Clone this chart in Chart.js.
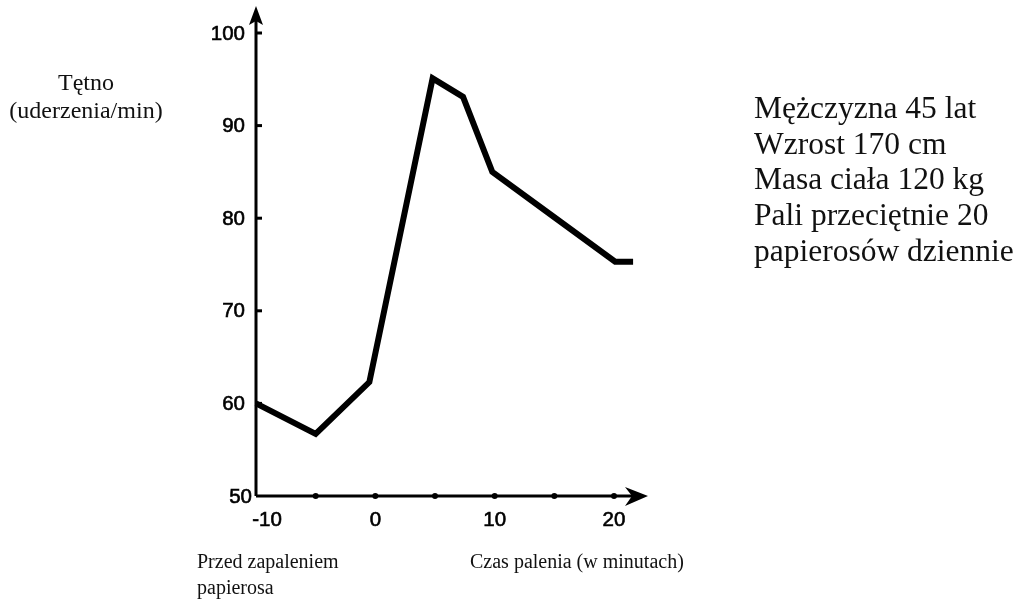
<!DOCTYPE html>
<html>
<head>
<meta charset="utf-8">
<script src="https://cdn.jsdelivr.net/npm/chart.js@4"></script>
<style>
    body { margin: 0; background: #fff; }
    #wrap { position: relative; width: 1021px; height: 600px; }
    .note { position: absolute; font-family: 'Liberation Serif', 'Times New Roman', serif; color: #111; white-space: nowrap; }
</style>
</head>
<body>
<div id="wrap">
    <canvas id="pulseChart" width="1021" height="600"></canvas>
    <div class="note" style="left:0; top:68px; width:172px; text-align:center; font-size:24px; line-height:28px;">Tętno<br>(uderzenia/min)</div>
    <div class="note" style="left:754px; top:90px; font-size:31.5px; line-height:35.7px;">Mężczyzna 45 lat<br>Wzrost 170 cm<br>Masa ciała 120 kg<br>Pali przeciętnie 20<br>papierosów dziennie</div>
    <div class="note" style="left:197px; top:548px; font-size:20px; line-height:26px;">Przed zapaleniem<br>papierosa</div>
    <div class="note" style="left:470px; top:548px; font-size:20px; line-height:26px;">Czas palenia (w minutach)</div>
</div>
<script>
/* data */
const minutes = [-10, -5, -0.5, 4.8, 7.35, 9.8, 15, 20.1, 21.6];
const pulse = [60, 56.7, 62.3, 95.1, 93.1, 85, 80.1, 75.3, 75.3];
const xTickLabels = [-10, 0, 10, 20];
const xTickDots = [-5, 0, 5, 10, 15, 20];
const yTickLabels = [50, 60, 70, 80, 90, 100];

const ink = '#000';

// axes with arrows, tick marks and labels, drawn from the chart's own scales
const axesPlugin = {
    id: 'arrowAxes',
    afterDatasetsDraw(chart) {
        const { ctx, chartArea, scales } = chart;
        const x0 = chartArea.left;
        const y0 = chartArea.bottom;
        ctx.save();
        ctx.strokeStyle = ink;
        ctx.fillStyle = ink;
        ctx.lineWidth = 3;

        // y axis
        ctx.beginPath();
        ctx.moveTo(x0, y0);
        ctx.lineTo(x0, 14);
        ctx.stroke();
        ctx.beginPath();
        ctx.moveTo(x0, 6);
        ctx.lineTo(x0 - 7, 25);
        ctx.lineTo(x0, 21);
        ctx.lineTo(x0 + 7, 25);
        ctx.closePath();
        ctx.fill();

        // x axis
        const xEnd = 648;
        ctx.beginPath();
        ctx.moveTo(x0, y0);
        ctx.lineTo(xEnd - 6, y0);
        ctx.stroke();
        ctx.beginPath();
        ctx.moveTo(xEnd, y0);
        ctx.lineTo(xEnd - 23, y0 - 9);
        ctx.lineTo(xEnd - 16, y0);
        ctx.lineTo(xEnd - 23, y0 + 10);
        ctx.closePath();
        ctx.fill();

        // y ticks + labels
        ctx.font = '20.5px "Liberation Sans", Arial, sans-serif';
        ctx.textAlign = 'right';
        ctx.textBaseline = 'middle';
        ctx.lineWidth = 0.6;
        yTickLabels.forEach(v => {
            const py = scales.y.getPixelForValue(v);
            if (v > 50) {
                ctx.save();
                ctx.lineWidth = 3;
                ctx.beginPath();
                ctx.moveTo(x0, py);
                ctx.lineTo(x0 + 6, py);
                ctx.stroke();
                ctx.restore();
            }
            const lx = v === 50 ? x0 - 4 : x0 - 11;
            ctx.fillText(String(v), lx, py + 1);
            ctx.strokeText(String(v), lx, py + 1);
        });

        // x tick dots
        xTickDots.forEach(v => {
            const px = scales.x.getPixelForValue(v);
            ctx.beginPath();
            ctx.arc(px, y0, 3, 0, Math.PI * 2);
            ctx.fill();
        });

        // x labels
        ctx.textAlign = 'center';
        xTickLabels.forEach(v => {
            const px = scales.x.getPixelForValue(v);
            const lx = v === -10 ? px + 11 : px;
            ctx.fillText(String(v), lx, y0 + 24);
            ctx.strokeText(String(v), lx, y0 + 24);
        });
        ctx.restore();
    }
};

// 20 min sits at x=614 px; the scale runs on to 22 so the tail of the line is kept
const xMax = 22;
const pxPerMin = (614 - 256) / 30;

new Chart(document.getElementById('pulseChart'), {
    type: 'line',
    data: {
        datasets: [{
            data: minutes.map((m, i) => ({ x: m, y: pulse[i] })),
            borderColor: ink,
            borderWidth: 6,
            borderJoinStyle: 'miter',
            pointRadius: 0,
            tension: 0,
            clip: false
        }]
    },
    options: {
        responsive: false,
        animation: false,
        devicePixelRatio: 1,
        layout: { padding: { left: 256, right: 1021 - (614 + (xMax - 20) * pxPerMin), top: 33, bottom: 600 - 496 } },
        plugins: { legend: { display: false }, tooltip: { enabled: false } },
        scales: {
            x: { type: 'linear', min: -10, max: xMax, display: false },
            y: { type: 'linear', min: 50, max: 100, display: false }
        }
    },
    plugins: [axesPlugin]
});
</script>
</body>
</html>
